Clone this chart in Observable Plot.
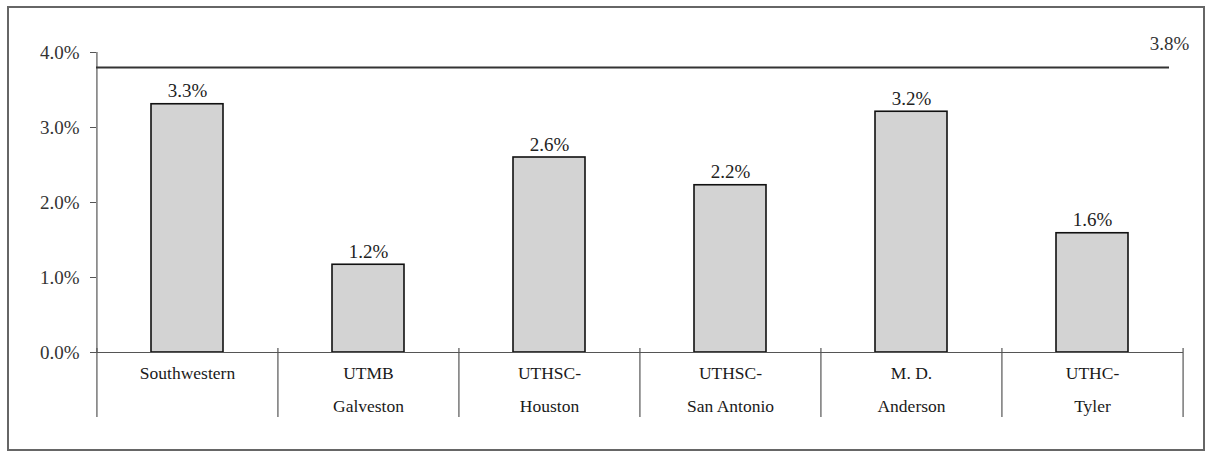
<!DOCTYPE html>
<html>
<head>
<meta charset="utf-8">
<script src="https://cdn.jsdelivr.net/npm/d3@7"></script>
<script src="https://cdn.jsdelivr.net/npm/@observablehq/plot@0.6"></script>
<style>
  html, body { margin: 0; padding: 0; background: #fff; }
  #wrap { position: relative; width: 1209px; height: 451px; }
  #border { position: absolute; left: 7px; top: 6px; width: 1194px; height: 441px; border: 2px solid #666; box-sizing: content-box; pointer-events: none; }
  #chart { position: absolute; left: 0; top: 0; }
</style>
</head>
<body>
<div id="wrap"><div id="chart"></div><div id="border"></div></div>
<script>
const categories = ["Southwestern", "UTMB Galveston", "UTHSC-Houston", "UTHSC-San Antonio", "M. D. Anderson", "UTHC-Tyler"];
const tickLabels = ["Southwestern", "UTMB\nGalveston", "UTHSC-\nHouston", "UTHSC-\nSan Antonio", "M. D.\nAnderson", "UTHC-\nTyler"];
const values = [3.31, 1.17, 2.6, 2.23, 3.21, 1.59];
const targetValue = [3.8];
const yTicks = [0, 1, 2, 3, 4];

const data = categories.map((c, i) => ({category: c, value: values[i]}));
const labelOf = new Map(categories.map((c, i) => [c, tickLabels[i]]));

const W = 1209, H = 451, ML = 96, MR = 26, MT = 52, MB = 99;
const step = (W - ML - MR) / categories.length;
const font = "'Liberation Serif', 'Times New Roman', serif";

const chart = Plot.plot({
  width: W, height: H,
  marginLeft: ML, marginRight: MR, marginTop: MT, marginBottom: MB,
  style: {fontFamily: font, color: "#222", background: "transparent", overflow: "visible"},
  x: {domain: categories, paddingInner: 0.6, paddingOuter: 0.3, axis: null, label: null},
  y: {domain: [0, 4], axis: null, label: null},
  marks: [
    Plot.axisY(yTicks, {tickFormat: d => d.toFixed(1) + "%", tickSize: 6, tickPadding: 11, fontSize: 19, stroke: "#555", color: "#333", label: null}),
    Plot.ruleX([0], {x: () => categories[0], y1: 0, y2: 4, dx: -step / 2, stroke: "#555", strokeWidth: 1.2}),
    Plot.barY(data, {x: "category", y: "value", fill: "#d3d3d3", stroke: "#111", strokeWidth: 1.6}),
    Plot.ruleY([0], {stroke: "#555", strokeWidth: 1.2}),
    Plot.ruleX(categories, {x: d => d, y1: 0, y2: 0, insetTop: -4, insetBottom: -65, dx: -step / 2, stroke: "#555", strokeWidth: 1.2}),
    Plot.ruleX(categories.slice(-1), {x: d => d, y1: 0, y2: 0, insetTop: -4, insetBottom: -65, dx: step / 2, stroke: "#555", strokeWidth: 1.2}),
    Plot.ruleY(targetValue, {stroke: "#333", strokeWidth: 2, insetRight: 14}),
    Plot.text(targetValue, {y: d => d, frameAnchor: "right", text: d => d.toFixed(1) + "%", dx: -14, dy: -24, fontSize: 19, fill: "#333", textAnchor: "middle"}),
    Plot.text(data, {x: "category", y: "value", text: d => d.value.toFixed(1) + "%", dy: -13, fontSize: 19, fill: "#222"}),
    Plot.axisX({tickSize: 0, tickPadding: 4, fontSize: 17.5, lineHeight: 1.85, tickFormat: d => labelOf.get(d), fill: "#1a1a1a", label: null})
  ]
});
document.getElementById("chart").appendChild(chart);
</script>
</body>
</html>
